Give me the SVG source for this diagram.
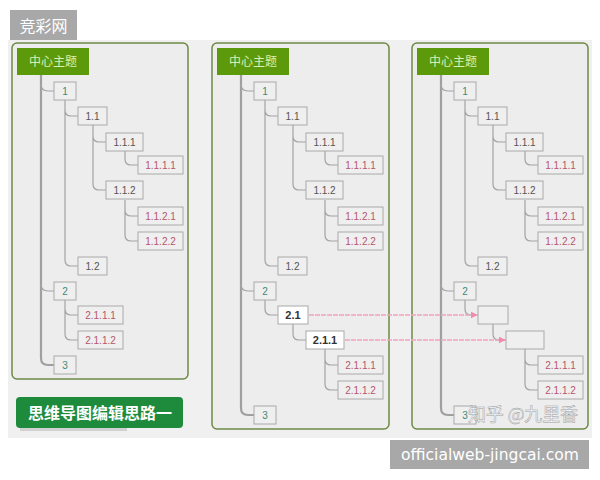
<svg xmlns="http://www.w3.org/2000/svg" width="600" height="480" viewBox="0 0 600 480">
<style>
.panel{fill:#ededed;stroke:#6e8a45;stroke-width:1.5}
.nd{fill:#efefef;stroke:#aaaaaa;stroke-width:1}
.wh{fill:#ffffff;stroke:#aaaaaa;stroke-width:1}
.root{fill:#5c9a0c}
.rt{font-family:"Noto Sans CJK SC","Noto Sans",sans-serif;font-size:12px;fill:#d9f0b5;text-anchor:middle}
.t{font-family:"Liberation Sans",Arial,sans-serif;font-size:10px;text-anchor:middle}
.l1{fill:#3e8a78}
.l2{fill:#555555}
.l4{fill:#b5566e}
.b{font-weight:bold;font-size:11px;fill:#333333}
.c{fill:none;stroke:#a3a3a3;stroke-width:1.2}
.tr{fill:none;stroke:#a0a0a0;stroke-width:2.2}
.ar{fill:none;stroke:#f2a2bf;stroke-width:1.6;stroke-dasharray:5 1}
.lbl{font-family:"Noto Sans CJK SC",sans-serif;fill:#ffffff}
</style>
<defs>
<marker id="ah" viewBox="0 0 10 10" refX="9" refY="5" markerWidth="7" markerHeight="7" orient="auto" markerUnits="userSpaceOnUse">
<path d="M0,0 L10,5 L0,10 z" fill="#f08ab0"/>
</marker>
</defs>
<rect x="0" y="0" width="600" height="480" fill="#ffffff"/>
<rect x="8" y="40" width="584" height="398" fill="#f0f0f0"/>

<g id="wm-top">
<rect x="10" y="10" width="67" height="30" fill="#a8a8a8"/>
<text x="43.5" y="32" class="lbl" font-size="16" text-anchor="middle">竞彩网</text>
</g>

<!-- panels -->
<rect x="12" y="43" width="176" height="336" rx="5" class="panel"/>
<rect x="212" y="43" width="177" height="386" rx="5" class="panel"/>
<rect x="412" y="43" width="176" height="386" rx="5" class="panel"/>

<g id="connectors">
<!-- panel 1 -->
<path class="tr" d="M41,75 V358 Q41,365 48,365 H54"/>
<path class="c" d="M41,84 Q41,91 48,91 H54 M41,284 Q41,291 48,291 H54"/>
<path class="c" d="M65,100 V260 Q65,266 71,266 H78 M65,110 Q65,116 71,116 H78"/>
<path class="c" d="M93,125 V184 Q93,190 99,190 H106 M93,136 Q93,142 99,142 H106"/>
<path class="c" d="M125,151 V159 Q125,165 131,165 H138"/>
<path class="c" d="M125,200 V235 Q125,241 131,241 H138 M125,210 Q125,216 131,216 H138"/>
<path class="c" d="M65,300 V334 Q65,340 71,340 H78 M65,309 Q65,315 71,315 H78"/>
<!-- panel 2 -->
<path class="tr" d="M241,75 V408 Q241,415 248,415 H254"/>
<path class="c" d="M241,84 Q241,91 248,91 H254 M241,284 Q241,291 248,291 H254"/>
<path class="c" d="M265,100 V260 Q265,266 271,266 H278 M265,110 Q265,116 271,116 H278"/>
<path class="c" d="M293,125 V184 Q293,190 299,190 H306 M293,136 Q293,142 299,142 H306"/>
<path class="c" d="M325,151 V159 Q325,165 331,165 H338"/>
<path class="c" d="M325,200 V235 Q325,241 331,241 H338 M325,210 Q325,216 331,216 H338"/>
<path class="c" d="M265,300 V309 Q265,315 271,315 H278"/>
<path class="c" d="M293,324 V334 Q293,340 299,340 H306"/>
<path class="c" d="M325,349 V384 Q325,390 331,390 H338 M325,359 Q325,365 331,365 H338"/>
<!-- panel 3 -->
<path class="tr" d="M441,75 V408 Q441,415 448,415 H454"/>
<path class="c" d="M441,84 Q441,91 448,91 H454 M441,284 Q441,291 448,291 H454"/>
<path class="c" d="M465,100 V260 Q465,266 471,266 H478 M465,110 Q465,116 471,116 H478"/>
<path class="c" d="M493,125 V184 Q493,190 499,190 H506 M493,136 Q493,142 499,142 H506"/>
<path class="c" d="M525,151 V159 Q525,165 531,165 H538"/>
<path class="c" d="M525,200 V235 Q525,241 531,241 H538 M525,210 Q525,216 531,216 H538"/>
<path class="c" d="M465,300 V309 Q465,315 471,315 H478"/>
<path class="c" d="M493,324 V334 Q493,340 499,340 H506"/>
<path class="c" d="M525,349 V384 Q525,390 531,390 H538 M525,359 Q525,365 531,365 H538"/>
<!-- pink arrows -->
<line class="ar" x1="309" y1="315" x2="477" y2="315" marker-end="url(#ah)"/>
<line class="ar" x1="345" y1="340" x2="505" y2="340" marker-end="url(#ah)"/>
</g>

<!-- panel 1 nodes -->
<g id="p1-root"><rect x="17" y="48" width="72" height="27" class="root"/><text x="53" y="66" class="rt">中心主题</text></g>
<g id="p1-n1"><rect x="54" y="82" width="22" height="18" class="nd"/><text x="65" y="95" class="t l1">1</text></g>
<g id="p1-n11"><rect x="78" y="107" width="29" height="18" class="nd"/><text x="92.5" y="120" class="t l2">1.1</text></g>
<g id="p1-n111"><rect x="106" y="133" width="37" height="18" class="nd"/><text x="124.5" y="146" class="t l2">1.1.1</text></g>
<g id="p1-n1111"><rect x="138" y="156" width="45" height="18" class="nd"/><text x="160.5" y="169" class="t l4">1.1.1.1</text></g>
<g id="p1-n112"><rect x="106" y="181" width="37" height="18" class="nd"/><text x="124.5" y="194" class="t l2">1.1.2</text></g>
<g id="p1-n1121"><rect x="138" y="207" width="45" height="18" class="nd"/><text x="160.5" y="220" class="t l4">1.1.2.1</text></g>
<g id="p1-n1122"><rect x="138" y="232" width="45" height="18" class="nd"/><text x="160.5" y="245" class="t l4">1.1.2.2</text></g>
<g id="p1-n12"><rect x="78" y="257" width="29" height="18" class="nd"/><text x="92.5" y="270" class="t l2">1.2</text></g>
<g id="p1-n2"><rect x="54" y="282" width="22" height="18" class="nd"/><text x="65" y="295" class="t l1">2</text></g>
<g id="p1-n2111"><rect x="78" y="306" width="45" height="18" class="nd"/><text x="100.5" y="319" class="t l4">2.1.1.1</text></g>
<g id="p1-n2112"><rect x="78" y="331" width="45" height="18" class="nd"/><text x="100.5" y="344" class="t l4">2.1.1.2</text></g>
<g id="p1-n3"><rect x="54" y="356" width="22" height="18" class="nd"/><text x="65" y="369" class="t l1">3</text></g>

<!-- panel 2 nodes -->
<g id="p2-root"><rect x="217" y="48" width="72" height="27" class="root"/><text x="253" y="66" class="rt">中心主题</text></g>
<g id="p2-n1"><rect x="254" y="82" width="22" height="18" class="nd"/><text x="265" y="95" class="t l1">1</text></g>
<g id="p2-n11"><rect x="278" y="107" width="29" height="18" class="nd"/><text x="292.5" y="120" class="t l2">1.1</text></g>
<g id="p2-n111"><rect x="306" y="133" width="37" height="18" class="nd"/><text x="324.5" y="146" class="t l2">1.1.1</text></g>
<g id="p2-n1111"><rect x="338" y="156" width="45" height="18" class="nd"/><text x="360.5" y="169" class="t l4">1.1.1.1</text></g>
<g id="p2-n112"><rect x="306" y="181" width="37" height="18" class="nd"/><text x="324.5" y="194" class="t l2">1.1.2</text></g>
<g id="p2-n1121"><rect x="338" y="207" width="45" height="18" class="nd"/><text x="360.5" y="220" class="t l4">1.1.2.1</text></g>
<g id="p2-n1122"><rect x="338" y="232" width="45" height="18" class="nd"/><text x="360.5" y="245" class="t l4">1.1.2.2</text></g>
<g id="p2-n12"><rect x="278" y="257" width="29" height="18" class="nd"/><text x="292.5" y="270" class="t l2">1.2</text></g>
<g id="p2-n2"><rect x="254" y="282" width="22" height="18" class="nd"/><text x="265" y="295" class="t l1">2</text></g>
<g id="p2-n21"><rect x="278" y="306" width="30" height="18" class="wh"/><text x="293" y="319" class="t b">2.1</text></g>
<g id="p2-n211"><rect x="306" y="331" width="38" height="18" class="wh"/><text x="325" y="344" class="t b">2.1.1</text></g>
<g id="p2-n2111"><rect x="338" y="356" width="45" height="18" class="nd"/><text x="360.5" y="369" class="t l4">2.1.1.1</text></g>
<g id="p2-n2112"><rect x="338" y="381" width="45" height="18" class="nd"/><text x="360.5" y="394" class="t l4">2.1.1.2</text></g>
<g id="p2-n3"><rect x="254" y="406" width="22" height="18" class="nd"/><text x="265" y="419" class="t l1">3</text></g>

<!-- panel 3 nodes -->
<g id="p3-root"><rect x="417" y="48" width="72" height="27" class="root"/><text x="453" y="66" class="rt">中心主题</text></g>
<g id="p3-n1"><rect x="454" y="82" width="22" height="18" class="nd"/><text x="465" y="95" class="t l1">1</text></g>
<g id="p3-n11"><rect x="478" y="107" width="29" height="18" class="nd"/><text x="492.5" y="120" class="t l2">1.1</text></g>
<g id="p3-n111"><rect x="506" y="133" width="37" height="18" class="nd"/><text x="524.5" y="146" class="t l2">1.1.1</text></g>
<g id="p3-n1111"><rect x="538" y="156" width="45" height="18" class="nd"/><text x="560.5" y="169" class="t l4">1.1.1.1</text></g>
<g id="p3-n112"><rect x="506" y="181" width="37" height="18" class="nd"/><text x="524.5" y="194" class="t l2">1.1.2</text></g>
<g id="p3-n1121"><rect x="538" y="207" width="45" height="18" class="nd"/><text x="560.5" y="220" class="t l4">1.1.2.1</text></g>
<g id="p3-n1122"><rect x="538" y="232" width="45" height="18" class="nd"/><text x="560.5" y="245" class="t l4">1.1.2.2</text></g>
<g id="p3-n12"><rect x="478" y="257" width="29" height="18" class="nd"/><text x="492.5" y="270" class="t l2">1.2</text></g>
<g id="p3-n2"><rect x="454" y="282" width="22" height="18" class="nd"/><text x="465" y="295" class="t l1">2</text></g>
<g id="p3-n21"><rect x="478" y="306" width="30" height="18" class="nd"/></g>
<g id="p3-n211"><rect x="506" y="331" width="38" height="18" class="nd"/></g>
<g id="p3-n2111"><rect x="538" y="356" width="45" height="18" class="nd"/><text x="560.5" y="369" class="t l4">2.1.1.1</text></g>
<g id="p3-n2112"><rect x="538" y="381" width="45" height="18" class="nd"/><text x="560.5" y="394" class="t l4">2.1.1.2</text></g>
<g id="p3-n3"><rect x="454" y="406" width="22" height="18" class="nd"/><text x="465" y="419" class="t l1">3</text></g>

<g id="watermark-zhihu">
<text x="468" y="421" font-family="'Noto Sans CJK SC',sans-serif" font-size="18" fill="#ffffff" stroke="#9a9a9a" stroke-width="0.5" textLength="110">知乎 @九里香</text>
</g>

<g id="banner">
<rect x="20" y="427" width="107" height="4" fill="#c8c8c8" opacity="0.8"/>
<rect x="16" y="397" width="167" height="31" rx="4" fill="#1e8a3c"/>
<text x="100" y="418.5" class="lbl" font-size="16" font-weight="bold" text-anchor="middle">思维导图编辑思路一</text>
</g>

<g id="wm-bottom">
<rect x="390" y="440" width="199" height="29" fill="#a8a8a8"/>
<text x="401" y="460" font-family="'DejaVu Sans',sans-serif" font-size="16" fill="#ffffff" textLength="178" lengthAdjust="spacingAndGlyphs">officialweb-jingcai.com</text>
</g>
</svg>
